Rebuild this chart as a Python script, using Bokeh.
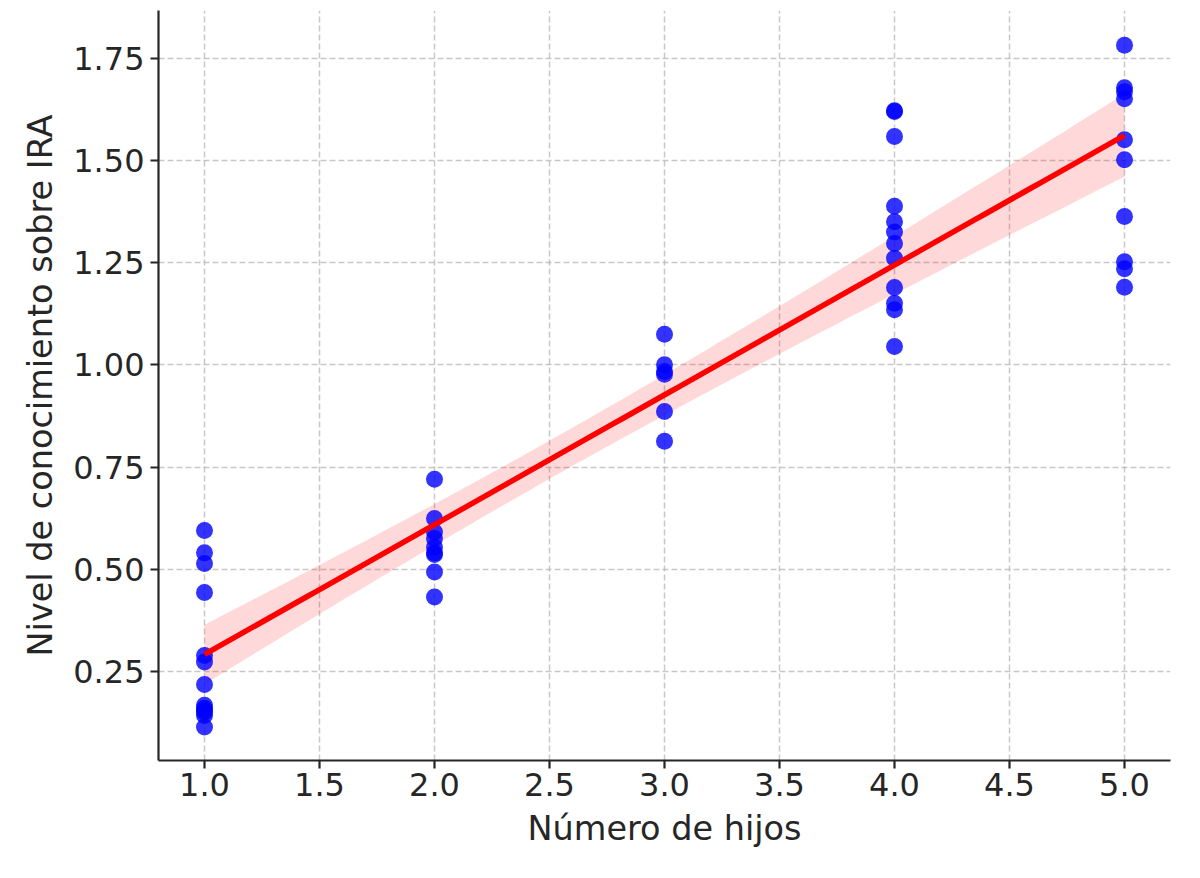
import numpy as np
from bokeh.plotting import figure
from bokeh.models import Range1d, FixedTicker
from bokeh.embed import file_html
from bokeh.resources import INLINE

# ---- data ----
hijos_1 = [0.595, 0.540, 0.514, 0.443, 0.289, 0.273, 0.218, 0.167, 0.160, 0.155, 0.150, 0.142, 0.114]
hijos_2 = [0.720, 0.624, 0.591, 0.575, 0.554, 0.540, 0.536, 0.493, 0.432]
hijos_3 = [1.075, 1.000, 0.984, 0.977, 0.886, 0.813]
hijos_4 = [1.622, 1.620, 1.559, 1.388, 1.350, 1.325, 1.297, 1.261, 1.189, 1.151, 1.135, 1.045]
hijos_5 = [1.782, 1.678, 1.668, 1.651, 1.551, 1.502, 1.363, 1.252, 1.235, 1.190]

groups = [1, 2, 3, 4, 5]
x_ticks = [1.0, 1.5, 2.0, 2.5, 3.0, 3.5, 4.0, 4.5, 5.0]
y_ticks = [0.25, 0.50, 0.75, 1.00, 1.25, 1.50, 1.75]

xs = []
ys = []
for g, vals in zip(groups, [hijos_1, hijos_2, hijos_3, hijos_4, hijos_5]):
    xs += [g] * len(vals)
    ys += vals
xs = np.array(xs, dtype=float)
ys = np.array(ys, dtype=float)

# ---- regression + 95% CI (heteroscedasticity-robust) ----
n = len(xs)
X = np.column_stack([np.ones(n), xs])
XtX_inv = np.linalg.inv(X.T @ X)
beta = XtX_inv @ X.T @ ys
resid = ys - X @ beta
h = np.sum((X @ XtX_inv) * X, axis=1)
w = resid ** 2 / (1 - h) ** 2
V = XtX_inv @ (X.T * w) @ X @ XtX_inv
xg = np.linspace(xs.min(), xs.max(), 100)
G = np.column_stack([np.ones_like(xg), xg])
yg = G @ beta
se = np.sqrt(np.sum((G @ V) * G, axis=1))
lo = yg - 1.96 * se
hi = yg + 1.96 * se

FONT = "DejaVu Sans"
TXT = "#262626"

p = figure(width=1184, height=862, output_backend="svg", toolbar_location=None,
           x_range=Range1d(0.8, 5.2), y_range=Range1d(0.032, 1.867),
           min_border_left=158, min_border_right=14, min_border_top=10, min_border_bottom=102)
p.outline_line_color = None
p.background_fill_color = "white"

p.varea(x=xg, y1=lo, y2=hi, fill_color="red", fill_alpha=0.15)
p.scatter(xs, ys, size=17, fill_color="blue", fill_alpha=0.8, line_color=None)
p.line(xg, yg, line_color="red", line_width=5.5)

for ax in (p.xaxis[0], p.yaxis[0]):
    ax.axis_line_color = TXT
    ax.axis_line_width = 2.2
    ax.major_tick_line_color = TXT
    ax.major_tick_line_width = 2.2
    ax.major_tick_out = 8
    ax.major_tick_in = 0
    ax.minor_tick_line_color = None
    ax.major_label_text_font = FONT
    ax.major_label_text_font_size = "32px"
    ax.major_label_text_color = TXT
    ax.axis_label_text_font = FONT
    ax.axis_label_text_font_size = "33.5px"
    ax.axis_label_text_color = TXT
    ax.axis_label_text_font_style = "normal"

p.xaxis.ticker = FixedTicker(ticks=x_ticks)
p.yaxis.ticker = FixedTicker(ticks=y_ticks)
p.xaxis.major_label_overrides = {v: f"{v:.1f}" for v in x_ticks}
p.yaxis.major_label_overrides = {v: f"{v:.2f}" for v in y_ticks}
p.xaxis.axis_label = "Número de hijos"
p.yaxis.axis_label = "Nivel de conocimiento sobre IRA"
p.xaxis.major_label_standoff = 4
p.yaxis.major_label_standoff = 6
p.xaxis.axis_label_standoff = 10
p.yaxis.axis_label_standoff = 10

for gr in (p.xgrid[0], p.ygrid[0]):
    gr.grid_line_color = "#b0b0b0"
    gr.grid_line_alpha = 0.7
    gr.grid_line_width = 1.5
    gr.grid_line_dash = "6 3"

open("out.html", "w").write(file_html(p, INLINE))
